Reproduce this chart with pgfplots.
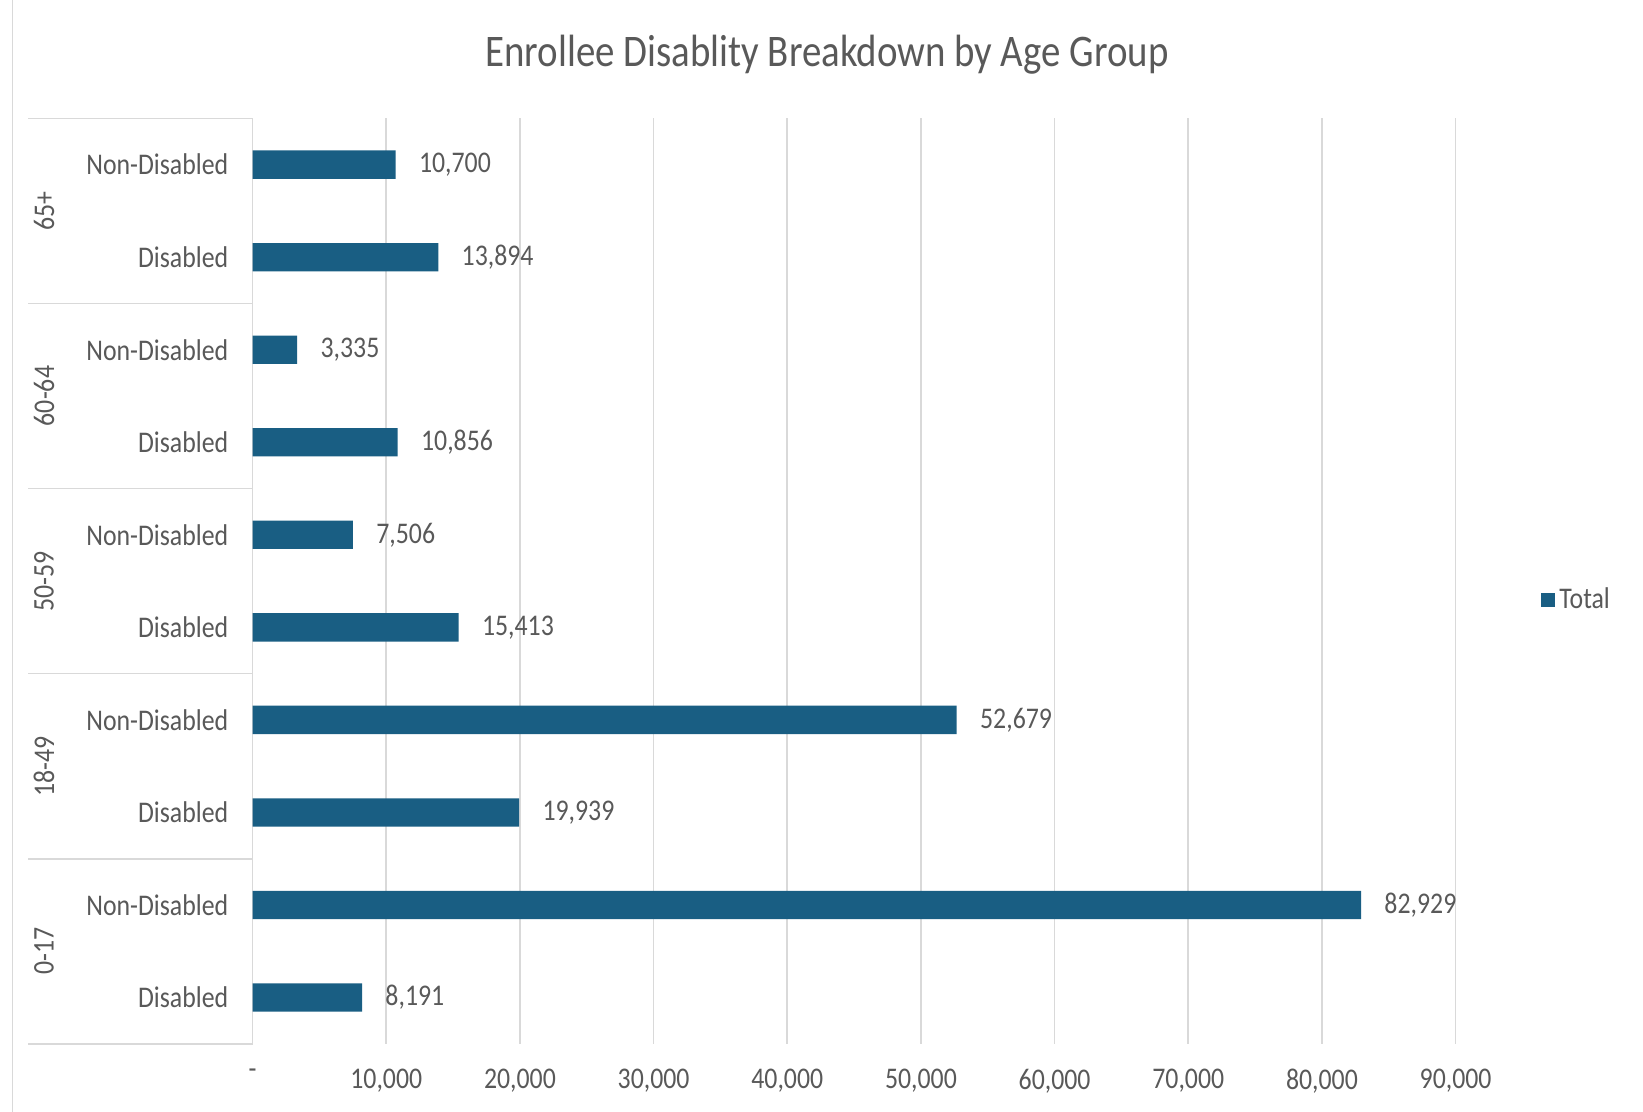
\documentclass[border=0pt]{standalone}
\usepackage{fontspec}
\setmainfont{Carlito}[FakeStretch=0.86]
\usepackage{pgfplots}
\pgfplotsset{compat=1.18}
\definecolor{barc}{HTML}{195E83}
\definecolor{txt}{HTML}{595959}
\definecolor{gridc}{HTML}{D9D9D9}
\newcommand{\tf}{\fontsize{15}{18}\selectfont}
\begin{document}
\begin{tikzpicture}
\useasboundingbox (0,0) rectangle (821.5pt,556pt);
\fill[white] (0,0) rectangle (821.5pt,556pt);
\draw[gridc, line width=0.8pt] (6.3pt,0) -- (6.3pt,556pt);
\node[text=txt, font=\fontsize{22.6}{27}\selectfont] at (413.5pt,528.8pt) {Enrollee Disablity Breakdown by Age Group};
\begin{axis}[
  at={(126.3pt,34.1pt)}, anchor=south west,
  scale only axis, width=601.5pt, height=462.7pt,
  xbar, bar width=14.15pt,
  xmin=0, xmax=90000, ymin=-0.5, ymax=9.5,
  xtick={0,10000,20000,30000,40000,50000,60000,70000,80000,90000},
  xticklabels={{-},{10,000},{20,000},{30,000},{40,000},{50,000},{60,000},{70,000},{80,000},{90,000}},
  ytick={0,1,2,3,4,5,6,7,8,9},
  yticklabels={Disabled,Non-Disabled,Disabled,Non-Disabled,Disabled,Non-Disabled,Disabled,Non-Disabled,Disabled,Non-Disabled},
  axis line style={draw=none},
  major tick length=0pt,
  xmajorgrids, grid style={gridc, line width=0.8pt},
  tick label style={font=\tf, text=txt},
  yticklabel style={inner sep=0pt, anchor=east, xshift=-12pt},
  xticklabel style={inner sep=0pt, anchor=north, yshift=-12.6pt},
  nodes near coords,
  nodes near coords style={anchor=west, inner sep=0pt, xshift=11.5pt, font=\tf, text=txt},
  /pgf/number format/1000 sep={,},
  /pgf/number format/assume math mode=true,
  clip=false,
  legend style={at={(1.071,0.48)}, anchor=west, draw=none, fill=none, inner sep=0pt, font=\tf, text=txt},
  legend image code/.code={\fill[barc] (0pt,-3.5pt) rectangle (7pt,3.5pt);},
]
\addplot[fill=barc, draw=none] coordinates {
  (8191,0) (82929,1) (19939,2) (52679,3) (15413,4)
  (7506,5) (10856,6) (3335,7) (13894,8) (10700,9)};
\addlegendentry{Total}
\pgfplotsinvokeforeach{-0.5,1.5,3.5,5.5,7.5,9.5}{
  \draw[gridc, line width=0.8pt] (axis cs:0,#1) -- ([xshift=-112.2pt]axis cs:0,#1);
}
\node[rotate=90, text=txt, font=\tf] at ([xshift=-104.3pt]axis cs:0,0.5) {0-17};
\node[rotate=90, text=txt, font=\tf] at ([xshift=-104.3pt]axis cs:0,2.5) {18-49};
\node[rotate=90, text=txt, font=\tf] at ([xshift=-104.3pt]axis cs:0,4.5) {50-59};
\node[rotate=90, text=txt, font=\tf] at ([xshift=-104.3pt]axis cs:0,6.5) {60-64};
\node[rotate=90, text=txt, font=\tf] at ([xshift=-104.3pt]axis cs:0,8.5) {65+};
\end{axis}
\end{tikzpicture}
\end{document}
